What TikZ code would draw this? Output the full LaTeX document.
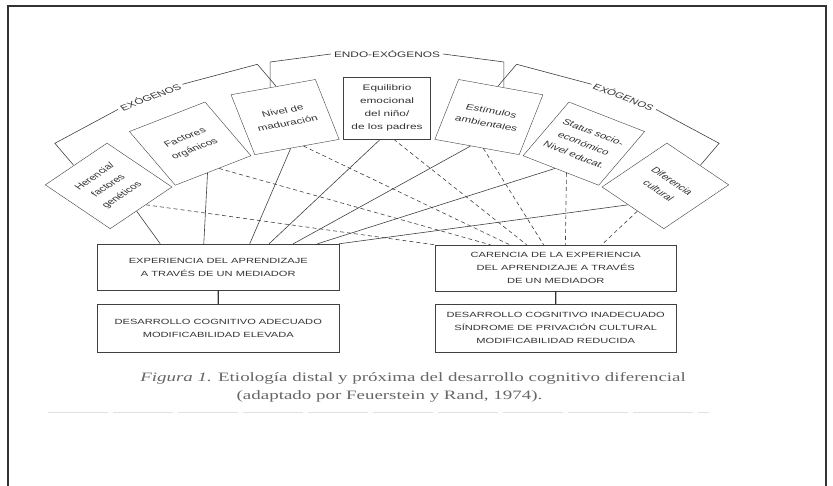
\documentclass[tikz,border=0pt]{standalone}
\usepackage{fontspec}
\setmainfont{Liberation Serif}
\setsansfont{Liberation Sans}
\usetikzlibrary{calc}

\begin{document}
\begin{tikzpicture}[x=1pt, y=1pt,
  fan/.style={draw=black!75, fill=white, minimum width=59pt, minimum height=62pt, inner sep=1pt, align=center, text=black!80, font=\sffamily\fontsize{8}{13}\selectfont},
  low/.style={draw=black!75, minimum width=163pt, minimum height=46pt, inner sep=1pt, align=center, text=black!80, font=\sffamily\fontsize{7.5}{13}\selectfont},
  grp/.style={inner sep=2pt, text=black!80, font=\sffamily\fontsize{8}{10}\selectfont},
  pie/.style={inner sep=0pt, text=black!60, font=\fontsize{12.8}{18}\selectfont},
  link/.style={black!75, line width=0.6pt},
  nolink/.style={black!75, line width=0.6pt, dash pattern=on 4pt off 3pt}]
\useasboundingbox (0,0) rectangle (833,-486);
\draw[black!80, line width=1.4pt] (8,-486) -- (8,-6) -- (826,-6) -- (826,-486);

\begin{scope}[shift={(387,-374)}, xscale=1.48, transform shape]
% factores
\node[fan, rotate=45]  (her) at (135:266) {Herencia/\\factores\\genéticos};
\node[fan, rotate=30]  (fac) at (120:266) {Factores\\orgánicos};
\node[fan, rotate=15]  (niv) at (105:266) {Nivel de\\maduración};
\node[fan]             (equ) at (90:266)  {Equilibrio\\emocional\\del niño/\\de los padres};
\node[fan, rotate=-15] (est) at (75:266)  {Estímulos\\ambientales};
\node[fan, rotate=-30] (sta) at (60:266)  {Status socio-\\económico\\Nivel educat.};
\node[fan, rotate=-45] (dif) at (45:266)  {Diferencia\\cultural};

% grupos
\begin{scope}[rotate=30]
\node[grp] (exol) at (0,320) {EXÓGENOS};
\draw[link] (exol.west) -- (-79,312) -- (-79,287);
\draw[link] (exol.east) -- (79,312) -- (79,287);
\end{scope}
\node[grp] (endo) at (0,320) {ENDO-EXÓGENOS};
\draw[link] (endo.west) -- (-79,312) -- (-79,287);
\draw[link] (endo.east) -- (79,312) -- (79,287);
\begin{scope}[rotate=-30]
\node[grp] (exor) at (0,320) {EXÓGENOS};
\draw[link] (exor.west) -- (-79,312) -- (-79,287);
\draw[link] (exor.east) -- (79,312) -- (79,287);
\end{scope}

% mediacion
\node[low] (exp) at (-114,107) {EXPERIENCIA DEL APRENDIZAJE\\A TRAVÉS DE UN MEDIADOR};
\node[low] (car) at (114,106) {CARENCIA DE LA EXPERIENCIA\\DEL APRENDIZAJE A TRAVÉS\\DE UN MEDIADOR};
\node[low, minimum height=48pt] (ade) at (-114,46) {DESARROLLO COGNITIVO ADECUADO\\MODIFICABILIDAD ELEVADA};
\node[low, minimum height=48pt] (ina) at (114,46) {DESARROLLO COGNITIVO INADECUADO\\SÍNDROME DE PRIVACIÓN CULTURAL\\MODIFICABILIDAD REDUCIDA};

\node[pie] (pie1) at (17.6,-4) {\textit{Figura 1.} Etiología distal y próxima del desarrollo cognitivo diferencial};
\node[pie] (pie2) at (1.7,-22.5) {(adaptado por Feuerstein y Rand, 1974).};
\end{scope}

\draw[black!80, line width=1.2pt] (exp) -- (ade);
\draw[black!80, line width=1.2pt] (car) -- (ina);

% con mediador
\draw[link] ($(her.south)!.15!(her.south west)$) -- ($(exp.north west)!.26!(exp.north east)$);
\draw[link] ($(fac.south)!.15!(fac.south west)$) -- ($(exp.north west)!.44!(exp.north east)$);
\draw[link] ($(niv.south)!.15!(niv.south west)$) -- ($(exp.north west)!.63!(exp.north east)$);
\draw[link] ($(equ.south)!.15!(equ.south west)$) -- ($(exp.north west)!.71!(exp.north east)$);
\draw[link] ($(est.south)!.15!(est.south west)$) -- ($(exp.north west)!.81!(exp.north east)$);
\draw[link] ($(sta.south)!.15!(sta.south west)$) -- ($(exp.north west)!.91!(exp.north east)$);
\draw[link] ($(dif.south)!.15!(dif.south west)$) -- (exp.north east);
% sin mediador
\draw[nolink] ($(her.south)!.15!(her.south east)$) -- (car.north west);
\draw[nolink] ($(fac.south)!.15!(fac.south east)$) -- ($(car.north west)!.23!(car.north east)$);
\draw[nolink] ($(niv.south)!.15!(niv.south east)$) -- ($(car.north west)!.31!(car.north east)$);
\draw[nolink] ($(equ.south)!.15!(equ.south east)$) -- ($(car.north west)!.38!(car.north east)$);
\draw[nolink] ($(est.south)!.15!(est.south east)$) -- ($(car.north west)!.45!(car.north east)$);
\draw[nolink] ($(sta.south)!.15!(sta.south east)$) -- ($(car.north west)!.54!(car.north east)$);
\draw[nolink] ($(dif.south)!.15!(dif.south east)$) -- ($(car.north west)!.69!(car.north east)$);

\draw[black!12, line width=1pt, dash pattern=on 60pt off 5pt] (48,-412) -- (709,-412);
\end{tikzpicture}
\end{document}
